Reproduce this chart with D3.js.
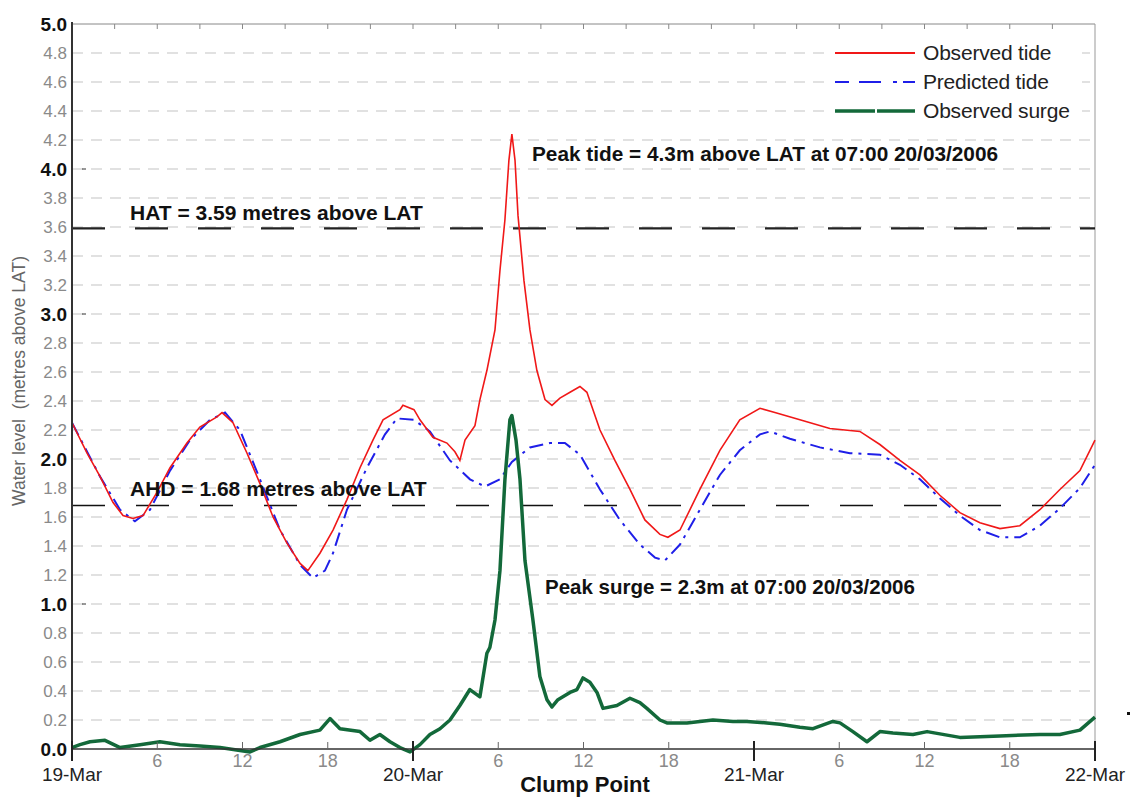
<!DOCTYPE html>
<html>
<head>
<meta charset="utf-8">
<script src="https://cdn.jsdelivr.net/npm/d3@7"></script>
<style>
  body { margin: 0; background: #fff; }
  text { font-family: "Liberation Sans", Arial, sans-serif; }
</style>
</head>
<body>
<div id="chart"></div>
<script>
// hours since 19-Mar-2006 00:00, water level in metres above LAT
const obsTideHours = [0,1.06,1.97,2.89,3.59,4.29,5.0,5.98,6.9,8.09,9.0,10.2,10.56,11.33,12.32,13.23,14.15,15.13,16.05,16.6,17.45,18.37,19.35,20.27,21.18,21.89,23.08,23.29,24.07,24.49,25.4,26.39,26.95,27.3,27.66,28.36,28.71,29.2,29.77,30.12,30.47,30.75,30.96,31.18,31.39,31.81,32.23,32.72,33.29,33.78,34.34,35.05,35.75,36.24,37.16,38.21,39.27,40.32,41.38,41.94,42.79,44.19,45.6,47.0,48.42,49.47,51.23,53.34,55.45,56.86,58.27,59.68,61.08,62.49,63.9,65.31,66.71,68.12,69.53,70.94,72];
const obsTide = [2.25,2.04,1.88,1.70,1.61,1.59,1.61,1.77,1.94,2.11,2.22,2.29,2.32,2.25,2.04,1.83,1.60,1.42,1.28,1.23,1.35,1.51,1.72,1.94,2.13,2.27,2.34,2.37,2.34,2.27,2.15,2.11,2.05,1.99,2.13,2.23,2.41,2.61,2.89,3.30,3.65,4.06,4.24,4.06,3.68,3.23,2.89,2.61,2.41,2.37,2.42,2.46,2.50,2.46,2.20,1.99,1.79,1.58,1.48,1.46,1.51,1.79,2.06,2.27,2.35,2.32,2.27,2.21,2.19,2.10,1.99,1.89,1.75,1.63,1.56,1.52,1.54,1.65,1.79,1.92,2.13];

const predTideHours = [0,1.97,3.38,4.43,5.49,6.9,8.3,9.71,10.77,11.82,13.23,14.64,16.05,16.96,17.8,18.37,19.35,20.76,22.03,22.87,24.07,25.19,26.6,28.01,29.06,30.12,30.96,32.23,33.64,34.69,35.75,37.16,38.56,39.97,41.03,41.73,42.79,44.19,45.6,47.0,48.42,49.12,50.53,52.64,54.75,56.86,58.27,59.68,61.08,62.49,63.9,65.31,66.71,68.12,69.53,70.94,72];
const predTide = [2.25,1.88,1.65,1.57,1.65,1.92,2.13,2.27,2.32,2.20,1.86,1.51,1.27,1.18,1.23,1.35,1.65,1.94,2.17,2.28,2.27,2.19,1.99,1.86,1.81,1.86,1.98,2.08,2.11,2.11,2.03,1.79,1.58,1.41,1.32,1.30,1.41,1.65,1.89,2.06,2.17,2.19,2.14,2.08,2.04,2.03,1.96,1.86,1.73,1.61,1.51,1.46,1.46,1.54,1.66,1.80,1.96];

const surgeHours = [0,0.56,1.27,2.32,3.38,4.79,6.19,7.6,9.01,10.42,11.82,12.53,13.23,14.64,16.05,17.45,18.16,18.86,20.27,20.97,21.67,22.38,23.08,23.79,24.49,25.19,25.9,26.6,27.3,28.0,28.71,29.2,29.41,29.77,30.12,30.47,30.82,30.96,31.25,31.53,31.88,32.44,32.93,33.43,33.78,34.2,34.55,35.05,35.54,35.96,36.45,36.95,37.37,38.35,39.27,39.97,40.46,41.38,41.87,43.28,45.11,46.52,47.5,48.91,49.82,51.23,52.15,53.55,54.05,54.96,55.95,56.86,57.78,59.19,60.18,62.49,65.31,68.12,69.53,70.94,72];
const surge = [0.01,0.03,0.05,0.06,0.01,0.03,0.05,0.03,0.02,0.01,-0.01,-0.02,0.01,0.05,0.10,0.13,0.21,0.14,0.12,0.06,0.10,0.05,0.01,-0.02,0.03,0.10,0.14,0.20,0.30,0.41,0.36,0.66,0.70,0.89,1.23,1.86,2.27,2.30,2.13,1.86,1.30,0.89,0.50,0.34,0.29,0.34,0.36,0.39,0.41,0.49,0.46,0.39,0.28,0.30,0.35,0.32,0.28,0.20,0.18,0.18,0.20,0.19,0.19,0.18,0.17,0.15,0.14,0.19,0.18,0.12,0.05,0.12,0.11,0.10,0.12,0.08,0.09,0.10,0.10,0.13,0.22];

const yTicks = [0,0.2,0.4,0.6,0.8,1.0,1.2,1.4,1.6,1.8,2.0,2.2,2.4,2.6,2.8,3.0,3.2,3.4,3.6,3.8,4.0,4.2,4.4,4.6,4.8,5.0];
const dayTicks = [0,24,48,72];
const dayLabels = ["19-Mar","20-Mar","21-Mar","22-Mar"];
const hourTicks = [6,12,18,30,36,42,54,60,66];
const HAT = 3.59, AHD = 1.68;

const W = 1132, H = 798;
const margin = {left: 72, top: 24, right: 37, bottom: 49};
const svg = d3.select("#chart").append("svg").attr("width", W).attr("height", H);

const x = d3.scaleLinear().domain([0, 72]).range([margin.left, W - margin.right]);
const y = d3.scaleLinear().domain([0, 5]).range([H - margin.bottom, margin.top]);

// grid
svg.append("g").selectAll("line")
  .data(yTicks.filter(d => d > 0 && d < 5))
  .join("line")
  .attr("x1", x(0)).attr("x2", x(72))
  .attr("y1", d => y(d)).attr("y2", d => y(d))
  .attr("stroke", "#c4c4c4").attr("stroke-width", 1.2)
  .attr("stroke-dasharray", "11,8");

// frame
svg.append("line").attr("x1", x(0)).attr("x2", x(72)).attr("y1", y(5)).attr("y2", y(5))
  .attr("stroke", "#888").attr("stroke-width", 1);
svg.append("line").attr("x1", x(72)).attr("x2", x(72)).attr("y1", y(5)).attr("y2", y(0))
  .attr("stroke", "#999").attr("stroke-width", 1);
// top small ticks every 3 hours
svg.append("g").selectAll("line")
  .data(d3.range(3, 72, 3))
  .join("line")
  .attr("x1", d => x(d)).attr("x2", d => x(d))
  .attr("y1", y(5)).attr("y2", y(5) + 5)
  .attr("stroke", "#888");

// reference levels
svg.append("line").attr("x1", x(0)).attr("x2", x(72)).attr("y1", y(HAT)).attr("y2", y(HAT))
  .attr("stroke", "#222").attr("stroke-width", 2.2).attr("stroke-dasharray", "33,30");
svg.append("line").attr("x1", x(0)).attr("x2", x(72)).attr("y1", y(AHD)).attr("y2", y(AHD))
  .attr("stroke", "#111").attr("stroke-width", 1.5).attr("stroke-dasharray", "33,31");

// lines
const line = (hrs) => d3.line().x((d, i) => x(hrs[i])).y(d => y(d));

svg.append("path").datum(predTide)
  .attr("d", line(predTideHours)).attr("fill", "none")
  .attr("stroke", "#1f1fe8").attr("stroke-width", 2)
  .attr("stroke-dasharray", "14,6,3,6");

svg.append("path").datum(obsTide)
  .attr("d", line(obsTideHours)).attr("fill", "none")
  .attr("stroke", "#f01818").attr("stroke-width", 1.6);

svg.append("path").datum(surge)
  .attr("d", line(surgeHours)).attr("fill", "none")
  .attr("stroke", "#13693a").attr("stroke-width", 3.5)
  .attr("stroke-linejoin", "round");

// y axis
svg.append("line").attr("x1", x(0)).attr("x2", x(0)).attr("y1", y(5) - 2).attr("y2", y(0) + 8)
  .attr("stroke", "#333").attr("stroke-width", 2);
svg.append("g").selectAll("text")
  .data(yTicks)
  .join("text")
  .attr("x", x(0) - 5).attr("y", d => y(d))
  .attr("dy", "0.36em")
  .attr("text-anchor", "end")
  .attr("font-size", d => Number.isInteger(d) ? 19 : 17)
  .attr("font-weight", d => Number.isInteger(d) ? "bold" : "normal")
  .attr("fill", d => Number.isInteger(d) ? "#111" : "#8a8a8a")
  .text(d => d.toFixed(1));
svg.append("g").selectAll("line")
  .data([1, 3, 4])
  .join("line")
  .attr("x1", x(0) + 10).attr("x2", x(0) + 14)
  .attr("y1", d => y(d)).attr("y2", d => y(d))
  .attr("stroke", "#333");

svg.append("text")
  .attr("transform", "translate(25,381) rotate(-90)")
  .attr("text-anchor", "middle")
  .attr("font-size", 17.5).attr("fill", "#666")
  .text("Water level\u00a0\u00a0(metres above LAT)");

// x axis
svg.append("line").attr("x1", x(0)).attr("x2", x(72)).attr("y1", y(0)).attr("y2", y(0))
  .attr("stroke", "#333").attr("stroke-width", 1.5);
svg.append("g").selectAll("line")
  .data(dayTicks)
  .join("line")
  .attr("x1", d => x(d)).attr("x2", d => x(d))
  .attr("y1", y(0) - 8).attr("y2", y(0) + 12)
  .attr("stroke", "#222").attr("stroke-width", 2);
svg.append("g").selectAll("line")
  .data(hourTicks)
  .join("line")
  .attr("x1", d => x(d)).attr("x2", d => x(d))
  .attr("y1", y(0) - 7).attr("y2", y(0))
  .attr("stroke", "#666").attr("stroke-width", 1);
svg.append("g").selectAll("text")
  .data(hourTicks)
  .join("text")
  .attr("x", d => x(d)).attr("y", y(0) + 18)
  .attr("text-anchor", "middle")
  .attr("font-size", 18).attr("fill", "#8a8a8a")
  .text(d => d % 24);
svg.append("g").selectAll("text")
  .data(dayTicks)
  .join("text")
  .attr("x", d => x(d)).attr("y", y(0) + 32)
  .attr("text-anchor", "middle")
  .attr("font-size", 19).attr("fill", "#222")
  .text((d, i) => dayLabels[i]);
svg.append("text")
  .attr("x", 585).attr("y", 792)
  .attr("text-anchor", "middle")
  .attr("font-size", 22).attr("font-weight", "bold").attr("fill", "#111")
  .text("Clump Point");

// annotations
svg.append("text").attr("x", 130).attr("y", y(HAT) - 8)
  .attr("font-size", 21).attr("font-weight", "bold").attr("fill", "#111")
  .text("HAT = 3.59 metres above LAT");
svg.append("text").attr("x", 130).attr("y", y(AHD) - 9)
  .attr("font-size", 21).attr("font-weight", "bold").attr("fill", "#111")
  .text("AHD = 1.68 metres above LAT");
svg.append("text").attr("x", 532).attr("y", 161)
  .attr("font-size", 20.8).attr("font-weight", "bold").attr("fill", "#111")
  .text("Peak tide = 4.3m above LAT at 07:00 20/03/2006");
svg.append("text").attr("x", 545).attr("y", 594)
  .attr("font-size", 20.5).attr("font-weight", "bold").attr("fill", "#111")
  .text("Peak surge = 2.3m at 07:00 20/03/2006");

// legend
const legendNames = ["Observed tide", "Predicted tide", "Observed surge"];
const legendColors = ["#f01818", "#1f1fe8", "#13693a"];
const legendDash = [null, "14,10,22,12,4,6", "40,2"];
const legendWidth = [1.8, 2, 3.5];
const lg = svg.append("g");
legendNames.forEach((name, i) => {
  const ly = 53 + i * 29;
  lg.append("rect").attr("x", 832).attr("y", ly - 11).attr("width", 250).attr("height", 22).attr("fill", "#fff");
  lg.append("line").attr("x1", 835).attr("x2", 915).attr("y1", ly).attr("y2", ly)
    .attr("stroke", legendColors[i]).attr("stroke-width", legendWidth[i])
    .attr("stroke-dasharray", legendDash[i]);
  lg.append("text").attr("x", 923).attr("y", ly + 7)
    .attr("font-size", 21).attr("fill", "#222").attr("letter-spacing", -0.2)
    .text(name);
});

// stray mark at right edge
svg.append("rect").attr("x", 1127).attr("y", 712).attr("width", 3).attr("height", 3).attr("fill", "#111");
</script>
</body>
</html>
